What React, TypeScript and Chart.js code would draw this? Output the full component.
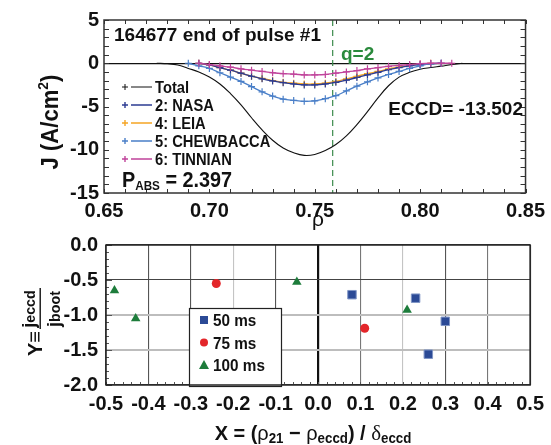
import React, { useEffect, useRef } from "react";
import { Chart, registerables } from "chart.js";
Chart.register(...registerables);

const FONT = "'Liberation Sans', Arial, Helvetica, sans-serif";

// ---------- Top chart data ----------
const RHO = [0.675, 0.68, 0.685, 0.69, 0.695, 0.7, 0.705, 0.71, 0.715, 0.72, 0.725, 0.73, 0.735, 0.74, 0.745, 0.75, 0.755, 0.76, 0.765, 0.77, 0.775, 0.78, 0.785, 0.79, 0.795, 0.8, 0.805, 0.81, 0.815, 0.82];
const TOTAL = [0, -0.05, -0.2, -0.6, -1.0, -1.6, -2.4, -3.5, -4.8, -6.3, -7.7, -8.9, -9.8, -10.35, -10.65, -10.55, -10.1, -9.4, -8.4, -7.1, -5.6, -4.0, -2.6, -1.6, -1.05, -0.7, -0.5, -0.33, -0.15, 0];
const NASA = [null, null, null, null, 0, -0.2, -0.5, -0.8, -1.15, -1.5, -1.8, -2.05, -2.25, -2.4, -2.5, -2.5, -2.4, -2.2, -1.95, -1.65, -1.35, -1.05, -0.75, -0.5, -0.3, -0.15, -0.05, 0, null, null];
const LEIA = [null, null, null, null, 0, -0.2, -0.5, -0.8, -1.15, -1.5, -1.75, -2.0, -2.2, -2.3, -2.4, -2.4, -2.3, -2.1, -1.8, -1.5, -1.2, -0.95, -0.65, -0.45, -0.25, -0.1, 0, null, null, null];
const CHEWBACCA = [null, null, null, 0, -0.3, -0.6, -1.1, -1.6, -2.1, -2.7, -3.3, -3.8, -4.15, -4.3, -4.4, -4.35, -4.1, -3.75, -3.2, -2.65, -2.15, -1.7, -1.3, -0.95, -0.6, -0.3, -0.05, 0, null, null];
const TINNIAN = [null, null, null, null, 0, -0.15, -0.3, -0.45, -0.65, -0.8, -0.95, -1.1, -1.2, -1.25, -1.35, -1.35, -1.3, -1.15, -1.0, -0.85, -0.65, -0.5, -0.35, -0.25, -0.15, -0.05, 0, 0, 0, null];
const Q2_RHO = 0.7585;
const SERIES_NAMES = ["Total", "2: NASA", "4: LEIA", "5: CHEWBACCA", "6: TINNIAN"];
const SERIES_COLORS = ["#111111", "#2d3c92", "#f5a524", "#4a7fc8", "#c0439b"];
const SHOT_LABEL = "164677 end of pulse #1";
const Q2_LABEL = "q=2";
const ECCD_LABEL = "ECCD= -13.502";
const P_ABS_VALUE = "2.397";
const TOP_X_TICKS = [0.65, 0.7, 0.75, 0.8, 0.85];

// ---------- Bottom chart data ----------
const MS50_X = [0.08, 0.23, 0.30, 0.26];
const MS50_Y = [-0.71, -0.76, -1.09, -1.56];
const MS75_X = [-0.24, 0.11];
const MS75_Y = [-0.55, -1.19];
const MS100_X = [-0.48, -0.43, -0.05, 0.21];
const MS100_Y = [-0.65, -1.05, -0.53, -0.93];
const BOTTOM_LEGEND = ["50 ms", "75 ms", "100 ms"];
const BOTTOM_COLORS = ["#2b4a96", "#e3262a", "#1d7c3b"];

type Part = { t: string; size: number; dy?: number; family?: string; weight?: string };
function drawParts(ctx: CanvasRenderingContext2D, parts: Part[], x: number, y: number, align: string, sx = 1) {
  let total = 0;
  const widths = parts.map((p) => {
    ctx.font = `${p.weight ?? "bold"} ${p.size}px ${p.family ?? FONT}`;
    const w = ctx.measureText(p.t).width * sx;
    total += w;
    return w;
  });
  let cx = align === "left" ? x : align === "center" ? x - total / 2 : x - total;
  ctx.textAlign = "left";
  ctx.textBaseline = "alphabetic";
  parts.forEach((p, i) => {
    ctx.font = `${p.weight ?? "bold"} ${p.size}px ${p.family ?? FONT}`;
    ctx.save();
    ctx.translate(cx, y + (p.dy ?? 0));
    ctx.scale(sx, 1);
    ctx.fillText(p.t, 0, 0);
    ctx.restore();
    cx += widths[i];
  });
}

function toPoints(xs: number[], ys: (number | null)[]) {
  const out: { x: number; y: number }[] = [];
  xs.forEach((x, i) => {
    const y = ys[i];
    if (y !== null && y !== undefined) out.push({ x, y });
  });
  return out;
}

const topDecor = {
  id: "topDecor",
  beforeDatasetsDraw(chart: any) {
    const { ctx, chartArea: a, scales } = chart;
    const x = scales.x.getPixelForValue(Q2_RHO);
    ctx.save();
    ctx.strokeStyle = "#3b8a4b";
    ctx.lineWidth = 1.2;
    ctx.setLineDash([6, 4]);
    ctx.beginPath();
    ctx.moveTo(x, a.top);
    ctx.lineTo(x, a.bottom);
    ctx.stroke();
    ctx.restore();
  },
  afterDraw(chart: any) {
    const { ctx, chartArea: a, scales } = chart;
    ctx.save();
    ctx.strokeStyle = "#333";
    ctx.lineWidth = 1;
    for (let v = -15; v <= 5; v++) {
      const y = Math.round(scales.y.getPixelForValue(v)) + 0.5;
      ctx.beginPath();
      ctx.moveTo(a.left, y); ctx.lineTo(a.left + 5, y);
      ctx.moveTo(a.right, y); ctx.lineTo(a.right - 5, y);
      ctx.stroke();
    }
    for (let k = 65; k <= 85; k++) {
      const x = Math.round(scales.x.getPixelForValue(k / 100)) + 0.5;
      ctx.beginPath();
      ctx.moveTo(x, a.bottom); ctx.lineTo(x, a.bottom - 4);
      ctx.moveTo(x, a.top); ctx.lineTo(x, a.top + 4);
      ctx.stroke();
    }
    ctx.strokeStyle = "#333";
    ctx.lineWidth = 1.5;
    ctx.strokeRect(a.left, a.top, a.right - a.left, a.bottom - a.top);

    ctx.fillStyle = "#111";
    drawParts(ctx, [{ t: SHOT_LABEL, size: 19 }], 114, 41, "left");
    ctx.fillStyle = "#2a8a3c";
    drawParts(ctx, [{ t: Q2_LABEL, size: 19 }], 341, 60, "left");
    ctx.fillStyle = "#111";
    drawParts(ctx, [{ t: ECCD_LABEL, size: 19 }], 523, 115, "right");
    drawParts(ctx, [{ t: "P", size: 22 }, { t: "ABS", size: 13, dy: 3 }, { t: " = " + P_ABS_VALUE, size: 22 }], 122, 187, "left", 0.9);

    SERIES_NAMES.forEach((name, i) => {
      const y = 87 + i * 18;
      ctx.strokeStyle = SERIES_COLORS[i];
      ctx.lineWidth = i === 0 ? 1 : 1.4;
      ctx.beginPath();
      ctx.moveTo(122, y); ctx.lineTo(128, y);
      ctx.moveTo(125, y - 3); ctx.lineTo(125, y + 3);
      ctx.moveTo(131, y); ctx.lineTo(152, y);
      ctx.stroke();
      ctx.fillStyle = "#111";
      drawParts(ctx, [{ t: name, size: 16 }], 155, y + 6, "left", 0.92);
    });

    drawParts(ctx, [{ t: "ρ", size: 21, weight: "normal" }], 318, 226, "center");
    ctx.save();
    ctx.translate(58, 122);
    ctx.rotate(-Math.PI / 2);
    drawParts(ctx, [{ t: "J (A/cm", size: 24 }, { t: "2", size: 15, dy: -10 }, { t: ")", size: 24 }], 0, 0, "center", 0.92);
    ctx.restore();
    ctx.restore();
  },
};

const bottomDecor = {
  id: "bottomDecor",
  afterDraw(chart: any) {
    const { ctx, chartArea: a, scales } = chart;
    ctx.save();
    ctx.strokeStyle = "#555";
    ctx.lineWidth = 1;
    for (let k = -20; k <= 0; k++) {
      const y = Math.round(scales.y.getPixelForValue(k / 10)) + 0.5;
      ctx.beginPath();
      ctx.moveTo(a.left, y); ctx.lineTo(a.left + (k % 5 === 0 ? 6 : 3), y);
      ctx.stroke();
    }
    for (let k = -25; k <= 25; k++) {
      const x = Math.round(scales.x.getPixelForValue(k / 50)) + 0.5;
      ctx.beginPath();
      ctx.moveTo(x, a.bottom); ctx.lineTo(x, a.bottom - 3);
      ctx.stroke();
    }
    const lx = 189, ly = 83, lw = 92, lh = 78;
    ctx.fillStyle = "#fff";
    ctx.fillRect(lx, ly, lw, lh);
    ctx.strokeStyle = "#222";
    ctx.lineWidth = 1.2;
    ctx.strokeRect(lx + 0.5, ly + 0.5, lw, lh);
    BOTTOM_LEGEND.forEach((name, i) => {
      const y = 95 + i * 22.5;
      const sx = 204;
      ctx.fillStyle = BOTTOM_COLORS[i];
      ctx.beginPath();
      if (i === 0) ctx.rect(sx - 4, y - 4, 8, 8);
      else if (i === 1) ctx.arc(sx, y, 4, 0, Math.PI * 2);
      else { ctx.moveTo(sx, y - 5); ctx.lineTo(sx + 5, y + 4); ctx.lineTo(sx - 5, y + 4); ctx.closePath(); }
      ctx.fill();
      ctx.fillStyle = "#111";
      drawParts(ctx, [{ t: name, size: 17 }], 213, y + 6, "left", 0.9);
    });
    ctx.strokeStyle = "#222";
    ctx.lineWidth = 1.5;
    ctx.strokeRect(a.left, a.top, a.right - a.left, a.bottom - a.top);

    ctx.fillStyle = "#111";
    drawParts(ctx, [
      { t: "X = (", size: 21 },
      { t: "ρ", size: 21, weight: "normal" },
      { t: "21", size: 14, dy: 3 },
      { t: " − ", size: 21 },
      { t: "ρ", size: 21, weight: "normal" },
      { t: "eccd", size: 14, dy: 3 },
      { t: ") / ", size: 21 },
      { t: "δ", size: 22, weight: "normal", family: "'Liberation Serif', serif" },
      { t: "eccd", size: 14, dy: 3 },
    ], 313, 215, "center", 0.95);

    // Y title with fraction (rotated)
    ctx.save();
    ctx.translate(41, 97);
    ctx.rotate(-Math.PI / 2);
    drawParts(ctx, [{ t: "Y", size: 21 }, { t: "≡", size: 21, weight: "normal" }], -9, 1, "right", 0.95);
    drawParts(ctx, [{ t: "j", size: 19 }, { t: "eccd", size: 15 }], 13, -6, "center", 0.95);
    ctx.fillRect(-7, -1.5, 41, 1.4);
    drawParts(ctx, [{ t: "j", size: 19 }, { t: "boot", size: 15 }], 13, 19, "center", 0.95);
    ctx.restore();
    ctx.restore();
  },
};

function gridColorX(v: number) {
  const k = Math.round(v * 10);
  if (k === 0) return "#111";
  if (k === -2 || k === 2) return "#c4c4c4";
  if (k === 1 || k === 4) return "#777";
  return "#555";
}
function gridColorY(v: number) {
  const k = Math.round(v * 10);
  if (k === -10 || k === -15) return "#bdbdbd";
  return "#444";
}

export default function App() {
  const topRef = useRef<HTMLCanvasElement>(null);
  const botRef = useRef<HTMLCanvasElement>(null);

  useEffect(() => {
    const tickFont = { family: FONT, size: 20, weight: "bold" as const };
    const lineDs = (label: string, ys: (number | null)[], color: string, markers: boolean) => ({
      label,
      data: toPoints(RHO, ys),
      borderColor: color,
      backgroundColor: color,
      borderWidth: markers ? 1.3 : 1.1,
      pointStyle: "cross",
      pointRadius: markers ? 3.5 : 0,
      pointBorderWidth: 1.2,
      pointBorderColor: color,
      tension: 0.4,
    });
    const top = new Chart(topRef.current!, {
      type: "line",
      data: {
        datasets: [
          lineDs(SERIES_NAMES[4], TINNIAN, SERIES_COLORS[4], true),
          lineDs(SERIES_NAMES[3], CHEWBACCA, SERIES_COLORS[3], true),
          lineDs(SERIES_NAMES[1], NASA, SERIES_COLORS[1], true),
          lineDs(SERIES_NAMES[2], LEIA, SERIES_COLORS[2], true),
          lineDs(SERIES_NAMES[0], TOTAL, SERIES_COLORS[0], false),
        ],
      },
      options: {
        responsive: false,
        animation: false,
        layout: { padding: { top: 20, right: 21, left: 0, bottom: 0 } },
        plugins: { legend: { display: false }, tooltip: { enabled: false } },
        scales: {
          x: {
            type: "linear",
            min: 0.65,
            max: 0.85,
            afterFit: (s: any) => { s.height = 47; },
            afterBuildTicks: (s: any) => { s.ticks = TOP_X_TICKS.map((v) => ({ value: v })); },
            ticks: { font: tickFont, color: "#111", padding: 6, maxRotation: 0, autoSkip: false, callback: (v: any) => Number(v).toFixed(2) },
            grid: { display: false, drawTicks: false },
            border: { display: false },
          },
          y: {
            min: -15,
            max: 5,
            afterFit: (s: any) => { s.width = 104; },
            ticks: { stepSize: 5, font: tickFont, color: "#111", padding: 5, callback: (v: any) => String(v) },
            grid: { drawTicks: false, color: (c: any) => (c.tick && c.tick.value === 0 ? "#111" : "rgba(0,0,0,0)"), lineWidth: 1.3 },
            border: { display: false },
          },
        },
      },
      plugins: [topDecor],
    });

    const bottom = new Chart(botRef.current!, {
      type: "scatter",
      data: {
        datasets: [
          { label: BOTTOM_LEGEND[0], data: toPoints(MS50_X, MS50_Y), pointStyle: "rect", pointRadius: 6, backgroundColor: BOTTOM_COLORS[0], borderColor: "#8096c6", pointBorderWidth: 1 },
          { label: BOTTOM_LEGEND[1], data: toPoints(MS75_X, MS75_Y), pointStyle: "circle", pointRadius: 4.5, backgroundColor: BOTTOM_COLORS[1], borderColor: BOTTOM_COLORS[1], pointBorderWidth: 0 },
          { label: BOTTOM_LEGEND[2], data: toPoints(MS100_X, MS100_Y), pointStyle: "triangle", pointRadius: 5.5, backgroundColor: BOTTOM_COLORS[2], borderColor: BOTTOM_COLORS[2], pointBorderWidth: 0 },
        ],
      },
      options: {
        responsive: false,
        animation: false,
        layout: { padding: { top: 18, right: 17, left: 0, bottom: 0 } },
        plugins: { legend: { display: false }, tooltip: { enabled: false } },
        scales: {
          x: {
            type: "linear",
            min: -0.5,
            max: 0.5,
            afterFit: (s: any) => { s.height = 60; },
            ticks: {
              stepSize: 0.1, font: tickFont, color: "#111", padding: 7, maxRotation: 0, autoSkip: false,
              callback: (v: any) => (Math.abs(Number(v)) < 1e-9 ? "0.0" : Number(v).toFixed(1)),
            },
            grid: {
              drawTicks: false,
              color: (c: any) => gridColorX(c.tick ? c.tick.value : 1),
              lineWidth: (c: any) => (c.tick && Math.abs(c.tick.value) < 1e-9 ? 2.2 : 1.1),
            },
            border: { display: false },
          },
          y: {
            min: -2,
            max: 0,
            afterFit: (s: any) => { s.width = 106; },
            ticks: { stepSize: 0.5, font: tickFont, color: "#111", padding: 8, callback: (v: any) => (Math.abs(Number(v)) < 1e-9 ? "0.0" : Number(v).toFixed(1)) },
            grid: {
              drawTicks: false,
              color: (c: any) => gridColorY(c.tick ? c.tick.value : 0),
              lineWidth: (c: any) => { const k = c.tick ? Math.round(c.tick.value * 10) : 0; return k === -10 || k === -15 ? 2 : 1.1; },
            },
            border: { display: false },
          },
        },
      },
      plugins: [bottomDecor],
    });

    return () => {
      top.destroy();
      bottom.destroy();
    };
  }, []);

  return (
    <div style={{ position: "absolute", left: 0, top: 0, width: 551, height: 445, background: "#fff", overflow: "hidden" }}>
      <canvas ref={botRef} width={551} height={220} style={{ position: "absolute", left: 0, top: 225, width: 551, height: 220 }} />
      <canvas ref={topRef} width={551} height={240} style={{ position: "absolute", left: 0, top: 0, width: 551, height: 240 }} />
    </div>
  );
}
